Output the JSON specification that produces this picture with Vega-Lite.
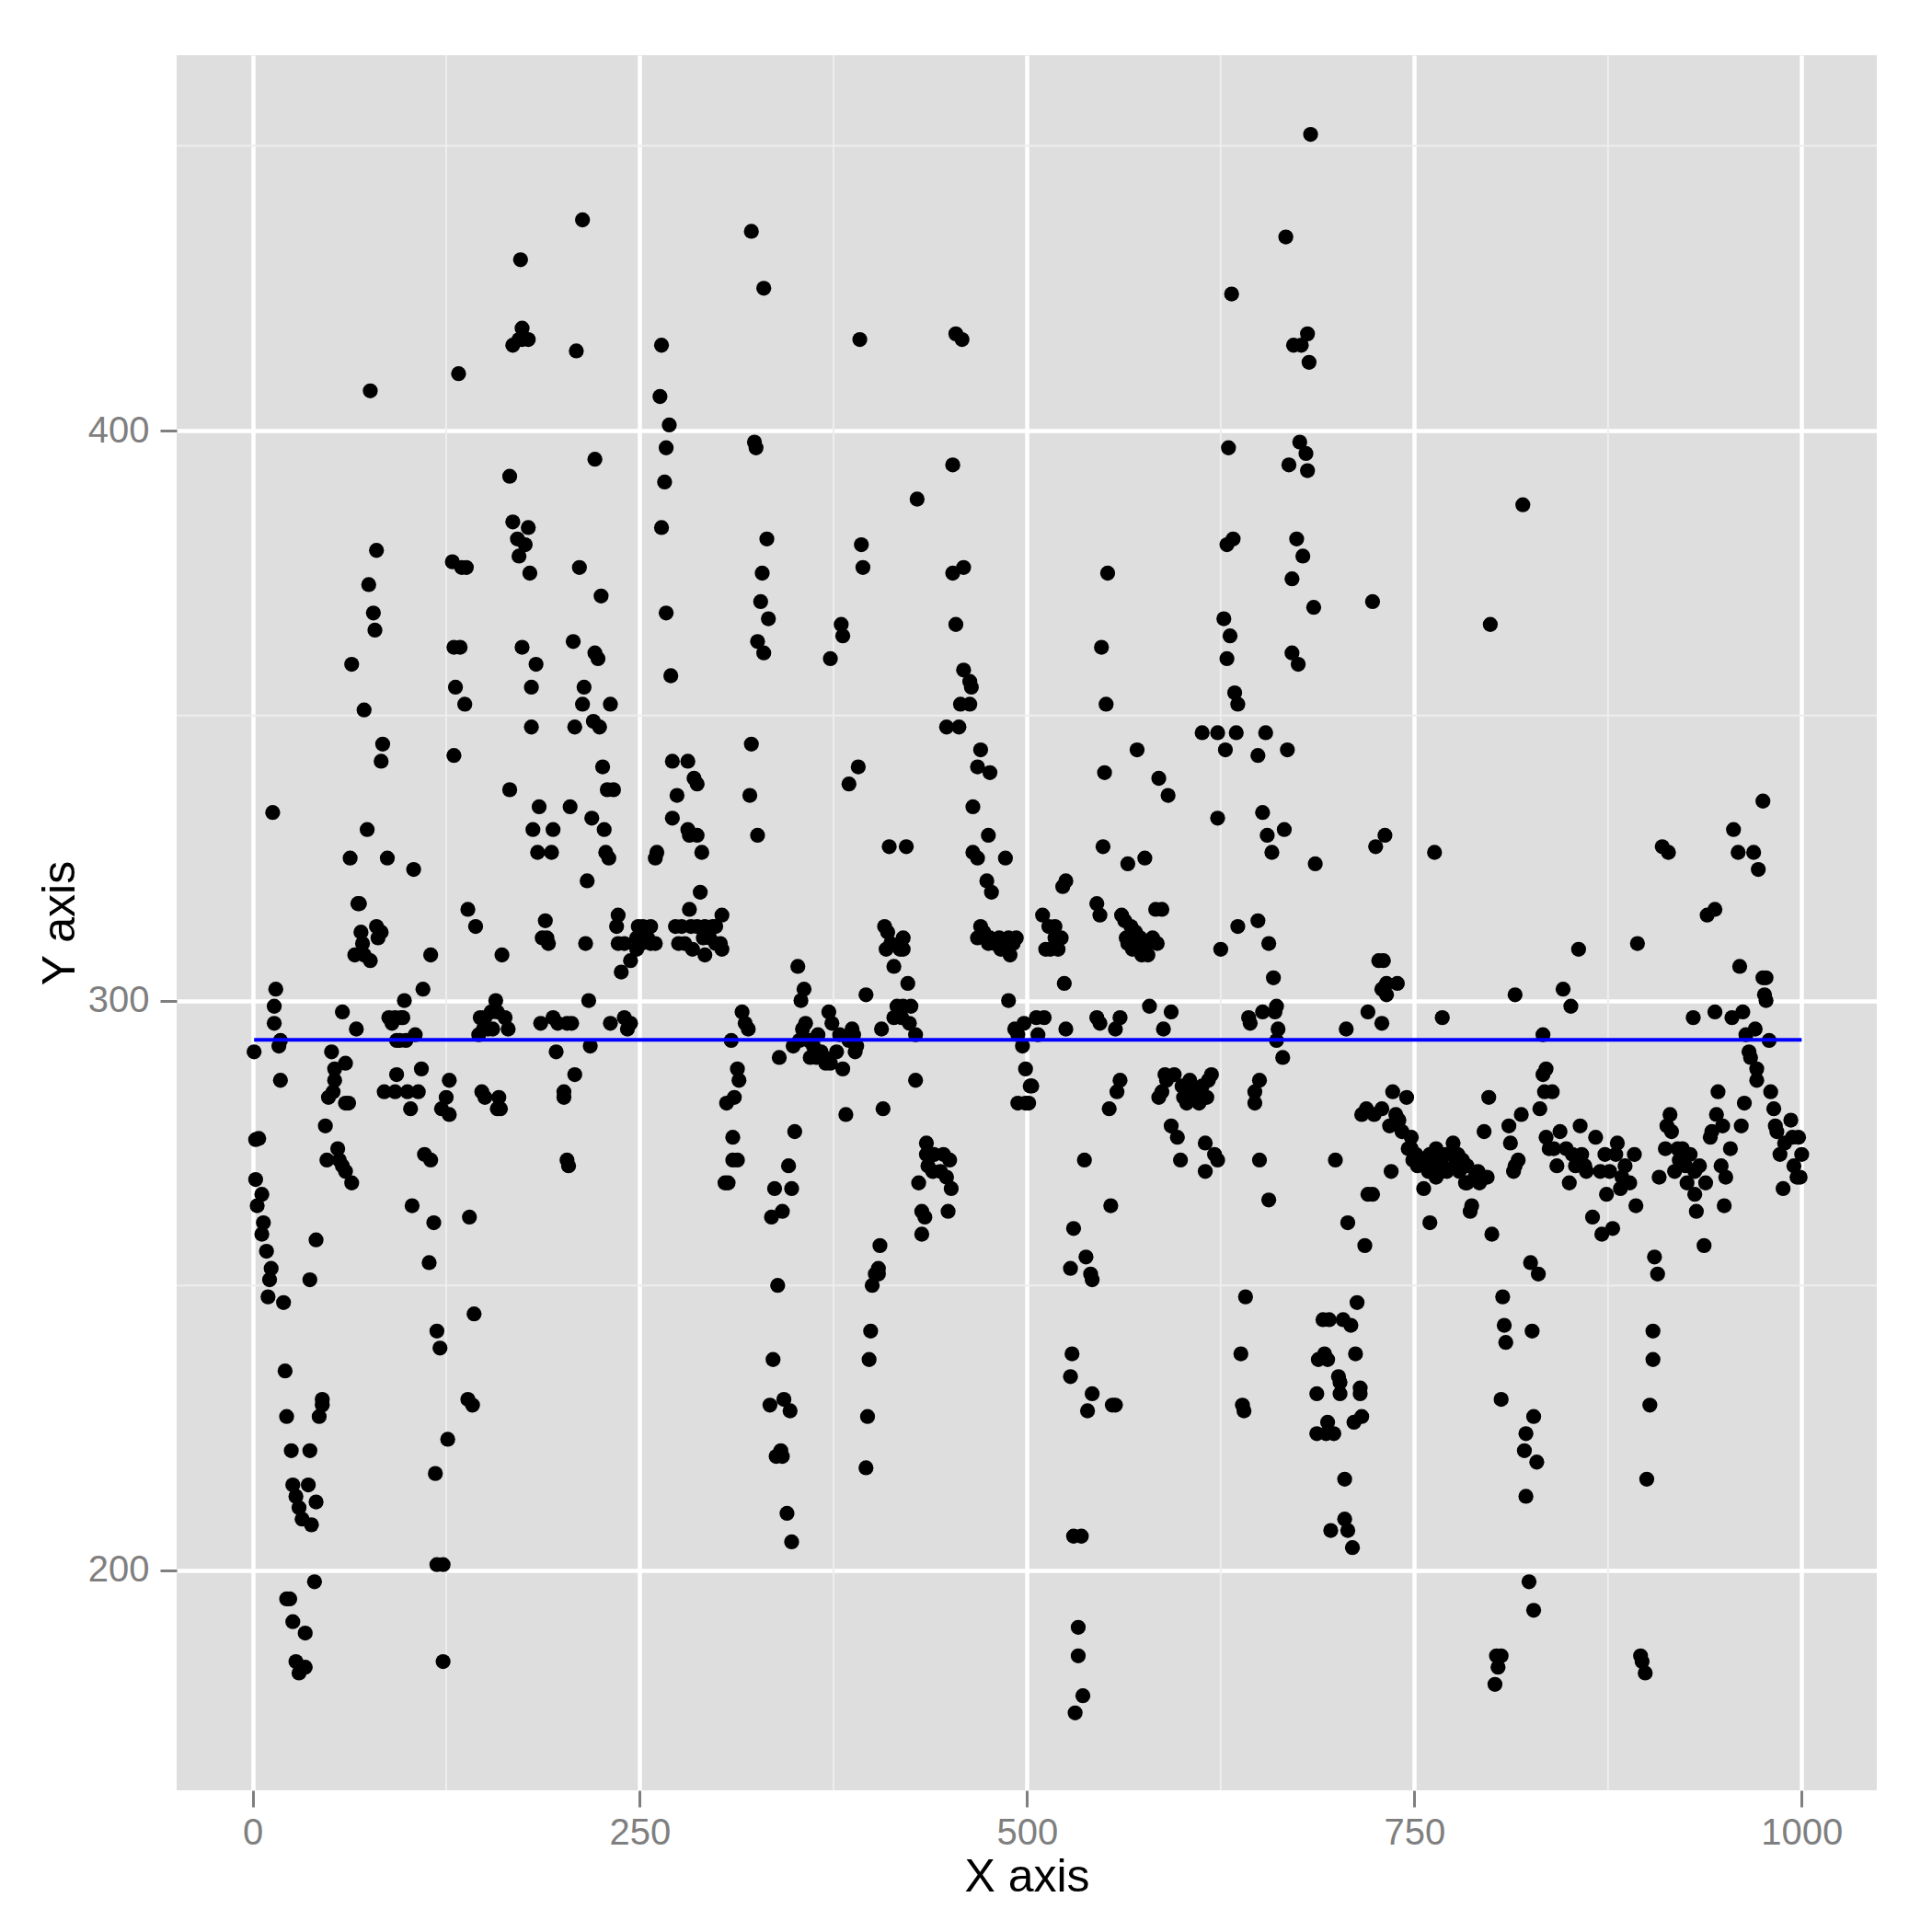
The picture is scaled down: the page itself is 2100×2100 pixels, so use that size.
{"$schema":"https://vega.github.io/schema/vega-lite/v6.json","width":1848,"height":1886,"autosize":"none","padding":{"left":192,"top":60,"right":60,"bottom":154},"background":"white","view":{"fill":"#dedede","stroke":null},"config":{"font":"Liberation Sans"},
"datasets":{"pts":[{"x":1,"y":291},{"x":2,"y":275.6},{"x":4,"y":275.8},{"x":2,"y":268.6},{"x":6,"y":266},{"x":3,"y":264},{"x":7,"y":261},{"x":6,"y":259},{"x":9,"y":256},{"x":12,"y":253},{"x":11,"y":251},{"x":10,"y":248},{"x":20,"y":247},{"x":13,"y":333},{"x":15,"y":302},{"x":14,"y":299},{"x":14,"y":296},{"x":18,"y":293},{"x":17,"y":292},{"x":18,"y":286},{"x":21,"y":235},{"x":22,"y":227},{"x":25,"y":221},{"x":37,"y":221},{"x":26,"y":215},{"x":36,"y":215},{"x":28,"y":213},{"x":30,"y":211},{"x":41,"y":212},{"x":32,"y":209},{"x":38,"y":208},{"x":22,"y":195},{"x":24,"y":195},{"x":26,"y":191},{"x":34,"y":189},{"x":28,"y":184},{"x":34,"y":183},{"x":30,"y":182},{"x":40,"y":198},{"x":37,"y":251},{"x":41,"y":258},{"x":43,"y":227},{"x":45,"y":229},{"x":45,"y":230},{"x":47,"y":278},{"x":48,"y":272},{"x":52,"y":284},{"x":49,"y":283},{"x":53,"y":286},{"x":53,"y":288},{"x":51,"y":291},{"x":58,"y":298},{"x":55,"y":274},{"x":56,"y":272},{"x":58,"y":271},{"x":60,"y":270},{"x":64,"y":268},{"x":60,"y":289},{"x":60,"y":282},{"x":62,"y":282},{"x":63,"y":325},{"x":64,"y":359},{"x":67,"y":295},{"x":69,"y":317},{"x":68,"y":317},{"x":70,"y":312},{"x":71,"y":310},{"x":66,"y":308},{"x":72,"y":308},{"x":76,"y":307},{"x":72,"y":351},{"x":74,"y":330},{"x":75,"y":373},{"x":78,"y":368},{"x":79,"y":365},{"x":80,"y":379},{"x":76,"y":407},{"x":80,"y":313},{"x":83,"y":312},{"x":81,"y":311},{"x":83,"y":342},{"x":84,"y":345},{"x":87,"y":325},{"x":85,"y":284},{"x":90,"y":296},{"x":88,"y":297},{"x":92,"y":297},{"x":96,"y":297},{"x":97,"y":297},{"x":93,"y":293},{"x":99,"y":293},{"x":95,"y":293},{"x":93,"y":287},{"x":92,"y":284},{"x":98,"y":300},{"x":100,"y":284},{"x":102,"y":281},{"x":107,"y":284},{"x":109,"y":288},{"x":105,"y":294},{"x":110,"y":302},{"x":115,"y":308},{"x":104,"y":323},{"x":103,"y":264},{"x":111,"y":273},{"x":115,"y":272},{"x":114,"y":254},{"x":117,"y":261},{"x":119,"y":242},{"x":121,"y":239},{"x":118,"y":217},{"x":126,"y":223},{"x":119,"y":201},{"x":123,"y":201},{"x":123,"y":184},{"x":122,"y":281},{"x":125,"y":283},{"x":127,"y":280},{"x":127,"y":286},{"x":130,"y":343},{"x":131,"y":355},{"x":129,"y":377},{"x":133,"y":410},{"x":130,"y":362},{"x":134,"y":362},{"x":135,"y":376},{"x":138,"y":376},{"x":137,"y":352},{"x":139,"y":316},{"x":144,"y":313},{"x":140,"y":262},{"x":143,"y":245},{"x":139,"y":230},{"x":142,"y":229},{"x":146,"y":294},{"x":147,"y":297},{"x":149,"y":295},{"x":150,"y":297},{"x":154,"y":298},{"x":152,"y":295},{"x":157,"y":300},{"x":155,"y":295},{"x":158,"y":298},{"x":148,"y":284},{"x":150,"y":283},{"x":159,"y":283},{"x":160,"y":281},{"x":158,"y":281},{"x":161,"y":308},{"x":163,"y":297},{"x":165,"y":295},{"x":166,"y":392},{"x":166,"y":337},{"x":168,"y":384},{"x":171,"y":381},{"x":176,"y":380},{"x":172,"y":378},{"x":179,"y":375},{"x":178,"y":383},{"x":168,"y":415},{"x":172,"y":416},{"x":174,"y":416},{"x":174,"y":418},{"x":178,"y":416},{"x":173,"y":430},{"x":174,"y":362},{"x":183,"y":359},{"x":180,"y":355},{"x":180,"y":348},{"x":185,"y":334},{"x":181,"y":330},{"x":194,"y":330},{"x":184,"y":326},{"x":193,"y":326},{"x":186,"y":296},{"x":189,"y":314},{"x":187,"y":311},{"x":190,"y":311},{"x":191,"y":310},{"x":194,"y":297},{"x":196,"y":291},{"x":197,"y":296},{"x":201,"y":284},{"x":201,"y":283},{"x":203,"y":296},{"x":206,"y":296},{"x":203,"y":272},{"x":204,"y":271},{"x":208,"y":287},{"x":205,"y":334},{"x":208,"y":348},{"x":207,"y":363},{"x":209,"y":414},{"x":211,"y":376},{"x":213,"y":437},{"x":213,"y":352},{"x":214,"y":355},{"x":216,"y":321},{"x":215,"y":310},{"x":217,"y":300},{"x":218,"y":292},{"x":219,"y":332},{"x":221,"y":395},{"x":220,"y":349},{"x":224,"y":348},{"x":221,"y":361},{"x":223,"y":360},{"x":225,"y":371},{"x":226,"y":341},{"x":227,"y":330},{"x":229,"y":337},{"x":233,"y":337},{"x":231,"y":352},{"x":228,"y":326},{"x":230,"y":325},{"x":231,"y":296},{"x":236,"y":315},{"x":235,"y":313},{"x":236,"y":310},{"x":238,"y":305},{"x":240,"y":310},{"x":244,"y":307},{"x":240,"y":297},{"x":244,"y":296},{"x":242,"y":295},{"x":248,"y":309},{"x":249,"y":313},{"x":248,"y":311},{"x":251,"y":310},{"x":252,"y":313},{"x":257,"y":313},{"x":255,"y":311},{"x":257,"y":310},{"x":260,"y":310},{"x":261,"y":326},{"x":260,"y":325},{"x":263,"y":406},{"x":264,"y":415},{"x":267,"y":397},{"x":266,"y":391},{"x":269,"y":401},{"x":264,"y":383},{"x":267,"y":368},{"x":270,"y":357},{"x":271,"y":342},{"x":271,"y":332},{"x":274,"y":336},{"x":281,"y":342},{"x":281,"y":330},{"x":282,"y":329},{"x":287,"y":329},{"x":287,"y":338},{"x":285,"y":339},{"x":290,"y":326},{"x":289,"y":319},{"x":273,"y":313},{"x":277,"y":313},{"x":275,"y":310},{"x":279,"y":310},{"x":284,"y":309},{"x":282,"y":316},{"x":283,"y":313},{"x":287,"y":313},{"x":292,"y":313},{"x":297,"y":313},{"x":292,"y":308},{"x":291,"y":311},{"x":295,"y":311},{"x":299,"y":310},{"x":302,"y":310},{"x":303,"y":315},{"x":299,"y":313},{"x":303,"y":309},{"x":305,"y":268},{"x":307,"y":268},{"x":306,"y":282},{"x":311,"y":283},{"x":309,"y":293},{"x":316,"y":298},{"x":318,"y":296},{"x":320,"y":295},{"x":313,"y":288},{"x":314,"y":286},{"x":310,"y":276},{"x":310,"y":272},{"x":313,"y":272},{"x":322,"y":345},{"x":321,"y":336},{"x":324,"y":398},{"x":325,"y":397},{"x":326,"y":329},{"x":322,"y":435},{"x":330,"y":425},{"x":332,"y":381},{"x":329,"y":375},{"x":328,"y":370},{"x":326,"y":363},{"x":330,"y":361},{"x":333,"y":367},{"x":335,"y":262},{"x":337,"y":267},{"x":342,"y":263},{"x":348,"y":267},{"x":346,"y":271},{"x":350,"y":277},{"x":339,"y":250},{"x":336,"y":237},{"x":334,"y":229},{"x":343,"y":230},{"x":347,"y":228},{"x":338,"y":220},{"x":341,"y":221},{"x":342,"y":220},{"x":345,"y":210},{"x":348,"y":205},{"x":340,"y":290},{"x":349,"y":292},{"x":353,"y":293},{"x":355,"y":295},{"x":357,"y":296},{"x":352,"y":306},{"x":356,"y":302},{"x":354,"y":300},{"x":359,"y":293},{"x":362,"y":292},{"x":360,"y":290},{"x":365,"y":294},{"x":367,"y":291},{"x":364,"y":290},{"x":369,"y":290},{"x":372,"y":298},{"x":374,"y":296},{"x":370,"y":289},{"x":373,"y":289},{"x":377,"y":291},{"x":379,"y":294},{"x":381,"y":288},{"x":383,"y":280},{"x":373,"y":360},{"x":380,"y":366},{"x":381,"y":364},{"x":385,"y":338},{"x":391,"y":341},{"x":392,"y":416},{"x":393,"y":380},{"x":394,"y":376},{"x":396,"y":301},{"x":387,"y":295},{"x":385,"y":293},{"x":389,"y":291},{"x":390,"y":292},{"x":388,"y":294},{"x":397,"y":227},{"x":396,"y":218},{"x":398,"y":237},{"x":399,"y":242},{"x":400,"y":250},{"x":402,"y":252},{"x":404,"y":253},{"x":405,"y":257},{"x":404,"y":252},{"x":407,"y":281},{"x":406,"y":295},{"x":408,"y":313},{"x":411,"y":327},{"x":410,"y":312},{"x":409,"y":309},{"x":412,"y":310},{"x":414,"y":306},{"x":422,"y":327},{"x":420,"y":311},{"x":420,"y":309},{"x":418,"y":309},{"x":414,"y":297},{"x":416,"y":299},{"x":420,"y":299},{"x":425,"y":299},{"x":423,"y":303},{"x":419,"y":297},{"x":424,"y":296},{"x":428,"y":294},{"x":428,"y":286},{"x":429,"y":388},{"x":430,"y":268},{"x":432,"y":263},{"x":432,"y":259},{"x":434,"y":262},{"x":435,"y":273},{"x":435,"y":275},{"x":439,"y":270},{"x":436,"y":271},{"x":440,"y":273},{"x":444,"y":270},{"x":446,"y":273},{"x":450,"y":272},{"x":448,"y":269},{"x":451,"y":267},{"x":449,"y":263},{"x":448,"y":348},{"x":456,"y":348},{"x":452,"y":394},{"x":454,"y":417},{"x":458,"y":416},{"x":452,"y":375},{"x":459,"y":376},{"x":454,"y":366},{"x":459,"y":358},{"x":463,"y":356},{"x":464,"y":355},{"x":457,"y":352},{"x":463,"y":352},{"x":468,"y":341},{"x":470,"y":344},{"x":476,"y":340},{"x":465,"y":334},{"x":475,"y":329},{"x":465,"y":326},{"x":468,"y":325},{"x":486,"y":325},{"x":474,"y":321},{"x":477,"y":319},{"x":470,"y":313},{"x":472,"y":312},{"x":468,"y":311},{"x":476,"y":311},{"x":475,"y":310},{"x":479,"y":310},{"x":483,"y":309},{"x":482,"y":311},{"x":488,"y":311},{"x":493,"y":311},{"x":491,"y":310},{"x":489,"y":308},{"x":488,"y":300},{"x":492,"y":295},{"x":498,"y":296},{"x":494,"y":294},{"x":497,"y":292},{"x":499,"y":288},{"x":494,"y":282},{"x":499,"y":282},{"x":502,"y":285},{"x":503,"y":285},{"x":501,"y":282},{"x":506,"y":297},{"x":511,"y":297},{"x":507,"y":294},{"x":510,"y":315},{"x":512,"y":309},{"x":515,"y":309},{"x":514,"y":313},{"x":518,"y":313},{"x":518,"y":311},{"x":522,"y":311},{"x":520,"y":309},{"x":523,"y":320},{"x":525,"y":321},{"x":524,"y":303},{"x":525,"y":295},{"x":528,"y":253},{"x":530,"y":260},{"x":529,"y":238},{"x":528,"y":234},{"x":530,"y":206},{"x":535,"y":206},{"x":533,"y":190},{"x":533,"y":185},{"x":536,"y":178},{"x":531,"y":175},{"x":537,"y":272},{"x":538,"y":255},{"x":541,"y":252},{"x":542,"y":251},{"x":539,"y":228},{"x":542,"y":231},{"x":545,"y":317},{"x":547,"y":315},{"x":545,"y":297},{"x":547,"y":296},{"x":548,"y":362},{"x":550,"y":340},{"x":549,"y":327},{"x":551,"y":352},{"x":552,"y":375},{"x":553,"y":281},{"x":554,"y":264},{"x":555,"y":229},{"x":557,"y":229},{"x":557,"y":295},{"x":558,"y":284},{"x":560,"y":286},{"x":560,"y":297},{"x":561,"y":315},{"x":563,"y":314},{"x":565,"y":324},{"x":565,"y":310},{"x":567,"y":313},{"x":564,"y":311},{"x":570,"y":312},{"x":568,"y":309},{"x":571,"y":344},{"x":572,"y":309},{"x":574,"y":308},{"x":576,"y":325},{"x":573,"y":311},{"x":577,"y":310},{"x":578,"y":308},{"x":581,"y":311},{"x":584,"y":310},{"x":583,"y":316},{"x":587,"y":316},{"x":585,"y":339},{"x":591,"y":336},{"x":579,"y":299},{"x":588,"y":295},{"x":593,"y":298},{"x":585,"y":283},{"x":587,"y":284},{"x":589,"y":287},{"x":590,"y":286},{"x":595,"y":287},{"x":593,"y":278},{"x":597,"y":276},{"x":599,"y":272},{"x":600,"y":285},{"x":601,"y":283},{"x":603,"y":282},{"x":606,"y":284},{"x":609,"y":283},{"x":605,"y":286},{"x":613,"y":347},{"x":611,"y":282},{"x":615,"y":275},{"x":615,"y":270},{"x":613,"y":285},{"x":617,"y":286},{"x":619,"y":287},{"x":616,"y":283},{"x":623,"y":347},{"x":623,"y":332},{"x":625,"y":309},{"x":621,"y":273},{"x":623,"y":272},{"x":627,"y":367},{"x":628,"y":344},{"x":629,"y":360},{"x":629,"y":380},{"x":633,"y":381},{"x":630,"y":397},{"x":632,"y":424},{"x":631,"y":364},{"x":634,"y":354},{"x":635,"y":347},{"x":636,"y":352},{"x":636,"y":313},{"x":638,"y":238},{"x":639,"y":229},{"x":640,"y":228},{"x":641,"y":248},{"x":643,"y":297},{"x":644,"y":296},{"x":647,"y":284},{"x":647,"y":282},{"x":649,"y":343},{"x":649,"y":314},{"x":650,"y":272},{"x":652,"y":333},{"x":652,"y":298},{"x":650,"y":286},{"x":655,"y":329},{"x":656,"y":310},{"x":656,"y":265},{"x":658,"y":326},{"x":659,"y":304},{"x":660,"y":298},{"x":661,"y":299},{"x":662,"y":295},{"x":661,"y":293},{"x":665,"y":290},{"x":666,"y":330},{"x":654,"y":347},{"x":668,"y":344},{"x":667,"y":434},{"x":669,"y":394},{"x":671,"y":374},{"x":671,"y":361},{"x":674,"y":381},{"x":675,"y":359},{"x":672,"y":415},{"x":676,"y":398},{"x":680,"y":396},{"x":678,"y":378},{"x":677,"y":415},{"x":681,"y":417},{"x":682,"y":412},{"x":681,"y":393},{"x":685,"y":369},{"x":686,"y":324},{"x":683,"y":452},{"x":687,"y":231},{"x":688,"y":237},{"x":691,"y":244},{"x":692,"y":238},{"x":694,"y":237},{"x":695,"y":244},{"x":687,"y":224},{"x":693,"y":224},{"x":694,"y":226},{"x":698,"y":224},{"x":696,"y":207},{"x":699,"y":272},{"x":701,"y":234},{"x":702,"y":233},{"x":702,"y":231},{"x":704,"y":244},{"x":705,"y":216},{"x":705,"y":209},{"x":707,"y":207},{"x":706,"y":295},{"x":707,"y":261},{"x":709,"y":243},{"x":710,"y":204},{"x":711,"y":226},{"x":712,"y":238},{"x":713,"y":247},{"x":715,"y":232},{"x":715,"y":231},{"x":716,"y":227},{"x":718,"y":257},{"x":716,"y":280},{"x":719,"y":281},{"x":720,"y":298},{"x":720,"y":266},{"x":723,"y":266},{"x":723,"y":370},{"x":725,"y":327},{"x":724,"y":280},{"x":727,"y":307},{"x":729,"y":302},{"x":730,"y":307},{"x":729,"y":281},{"x":729,"y":296},{"x":731,"y":329},{"x":732,"y":301},{"x":732,"y":303},{"x":739,"y":303},{"x":734,"y":278},{"x":735,"y":270},{"x":738,"y":280},{"x":736,"y":284},{"x":740,"y":279},{"x":745,"y":283},{"x":742,"y":277},{"x":746,"y":274},{"x":748,"y":276},{"x":748,"y":274},{"x":749,"y":272},{"x":751,"y":273},{"x":752,"y":271},{"x":754,"y":272},{"x":756,"y":267},{"x":757,"y":271},{"x":759,"y":270},{"x":760,"y":261},{"x":760,"y":273},{"x":762,"y":271},{"x":764,"y":274},{"x":764,"y":269},{"x":766,"y":272},{"x":768,"y":270},{"x":768,"y":271},{"x":770,"y":273},{"x":771,"y":270},{"x":773,"y":273},{"x":775,"y":275},{"x":776,"y":271},{"x":778,"y":273},{"x":779,"y":270},{"x":781,"y":272},{"x":783,"y":268},{"x":784,"y":271},{"x":786,"y":263},{"x":787,"y":264},{"x":784,"y":268},{"x":789,"y":269},{"x":791,"y":270},{"x":792,"y":268},{"x":795,"y":269},{"x":797,"y":269},{"x":768,"y":297},{"x":763,"y":326},{"x":799,"y":366},{"x":798,"y":283},{"x":795,"y":277},{"x":800,"y":259},{"x":802,"y":180},{"x":803,"y":185},{"x":806,"y":185},{"x":804,"y":183},{"x":806,"y":230},{"x":807,"y":248},{"x":808,"y":243},{"x":809,"y":240},{"x":811,"y":278},{"x":812,"y":275},{"x":814,"y":270},{"x":815,"y":301},{"x":815,"y":271},{"x":817,"y":272},{"x":819,"y":280},{"x":820,"y":387},{"x":821,"y":221},{"x":822,"y":224},{"x":822,"y":213},{"x":824,"y":198},{"x":826,"y":242},{"x":825,"y":254},{"x":827,"y":227},{"x":827,"y":193},{"x":829,"y":219},{"x":830,"y":252},{"x":831,"y":281},{"x":833,"y":294},{"x":833,"y":287},{"x":835,"y":288},{"x":834,"y":284},{"x":839,"y":284},{"x":835,"y":276},{"x":837,"y":274},{"x":840,"y":274},{"x":842,"y":271},{"x":844,"y":277},{"x":846,"y":302},{"x":848,"y":274},{"x":850,"y":268},{"x":851,"y":299},{"x":852,"y":273},{"x":854,"y":271},{"x":856,"y":309},{"x":857,"y":278},{"x":858,"y":273},{"x":860,"y":271},{"x":861,"y":270},{"x":865,"y":262},{"x":867,"y":276},{"x":870,"y":270},{"x":871,"y":259},{"x":873,"y":273},{"x":874,"y":266},{"x":876,"y":270},{"x":878,"y":260},{"x":880,"y":273},{"x":881,"y":275},{"x":883,"y":267},{"x":884,"y":269},{"x":886,"y":271},{"x":889,"y":268},{"x":892,"y":273},{"x":893,"y":264},{"x":894,"y":310},{"x":896,"y":185},{"x":897,"y":184},{"x":899,"y":182},{"x":900,"y":216},{"x":902,"y":229},{"x":904,"y":242},{"x":904,"y":237},{"x":905,"y":255},{"x":907,"y":252},{"x":908,"y":269},{"x":910,"y":327},{"x":912,"y":274},{"x":913,"y":278},{"x":914,"y":326},{"x":915,"y":280},{"x":916,"y":277},{"x":918,"y":270},{"x":920,"y":274},{"x":921,"y":272},{"x":923,"y":274},{"x":925,"y":271},{"x":926,"y":268},{"x":928,"y":273},{"x":930,"y":297},{"x":931,"y":270},{"x":931,"y":266},{"x":932,"y":263},{"x":934,"y":271},{"x":937,"y":257},{"x":938,"y":268},{"x":939,"y":315},{"x":941,"y":276},{"x":944,"y":316},{"x":944,"y":298},{"x":942,"y":277},{"x":946,"y":284},{"x":945,"y":280},{"x":948,"y":271},{"x":949,"y":278},{"x":950,"y":264},{"x":951,"y":269},{"x":954,"y":274},{"x":955,"y":297},{"x":956,"y":330},{"x":959,"y":326},{"x":960,"y":306},{"x":961,"y":278},{"x":962,"y":298},{"x":963,"y":282},{"x":964,"y":294},{"x":966,"y":291},{"x":967,"y":290},{"x":969,"y":326},{"x":970,"y":295},{"x":971,"y":288},{"x":972,"y":323},{"x":971,"y":286},{"x":975,"y":335},{"x":975,"y":304},{"x":977,"y":304},{"x":976,"y":301},{"x":977,"y":300},{"x":979,"y":293},{"x":980,"y":284},{"x":982,"y":281},{"x":983,"y":278},{"x":984,"y":277},{"x":986,"y":273},{"x":988,"y":267},{"x":989,"y":275},{"x":993,"y":279},{"x":994,"y":276},{"x":995,"y":271},{"x":997,"y":269},{"x":999,"y":269},{"x":1000,"y":273},{"x":998,"y":276}],
"line":[{"x":1,"y":293.1},{"x":1000,"y":293.1}],"minorx":[{"v":125},{"v":375},{"v":625},{"v":875}],"minory":[{"v":250},{"v":350},{"v":450}]},
"layer":[
{"data":{"name":"minorx"},"mark":{"type":"rule","color":"#eeeeee","strokeWidth":2},"encoding":{"x":{"field":"v","type":"quantitative","scale":{"domain":[-49,1048.5],"nice":false,"zero":false},"axis":{"title":"X axis","values":[0,250,500,750,1000],"grid":true,"gridColor":"white","gridWidth":4.5,"domain":false,"tickColor":"#7f7f7f","tickSize":18,"tickWidth":3,"labelColor":"#7f7f7f","labelFontSize":40,"labelFont":"Liberation Sans","labelPadding":8,"titleFont":"Liberation Sans","titleFontSize":50,"titleFontWeight":"normal","titleColor":"black","titlePadding":3,"format":"d"}}}},
{"data":{"name":"minory"},"mark":{"type":"rule","color":"#eeeeee","strokeWidth":2},"encoding":{"y":{"field":"v","type":"quantitative","scale":{"domain":[161.4,465.9],"nice":false,"zero":false},"axis":{"title":"Y axis","values":[200,300,400],"grid":true,"gridColor":"white","gridWidth":4.5,"domain":false,"tickColor":"#7f7f7f","tickSize":18,"tickWidth":3,"labelColor":"#7f7f7f","labelFontSize":40,"labelFont":"Liberation Sans","labelPadding":12,"titleFont":"Liberation Sans","titleFontSize":50,"titleFontWeight":"normal","titleColor":"black","titlePadding":5,"format":"d"}}}},
{"data":{"name":"pts"},"mark":{"type":"circle","color":"black","opacity":1,"size":265},"encoding":{"x":{"field":"x","type":"quantitative"},"y":{"field":"y","type":"quantitative"}}},
{"data":{"name":"line"},"mark":{"type":"line","color":"#0000ff","strokeWidth":4},"encoding":{"x":{"field":"x","type":"quantitative"},"y":{"field":"y","type":"quantitative"}}}
]}
